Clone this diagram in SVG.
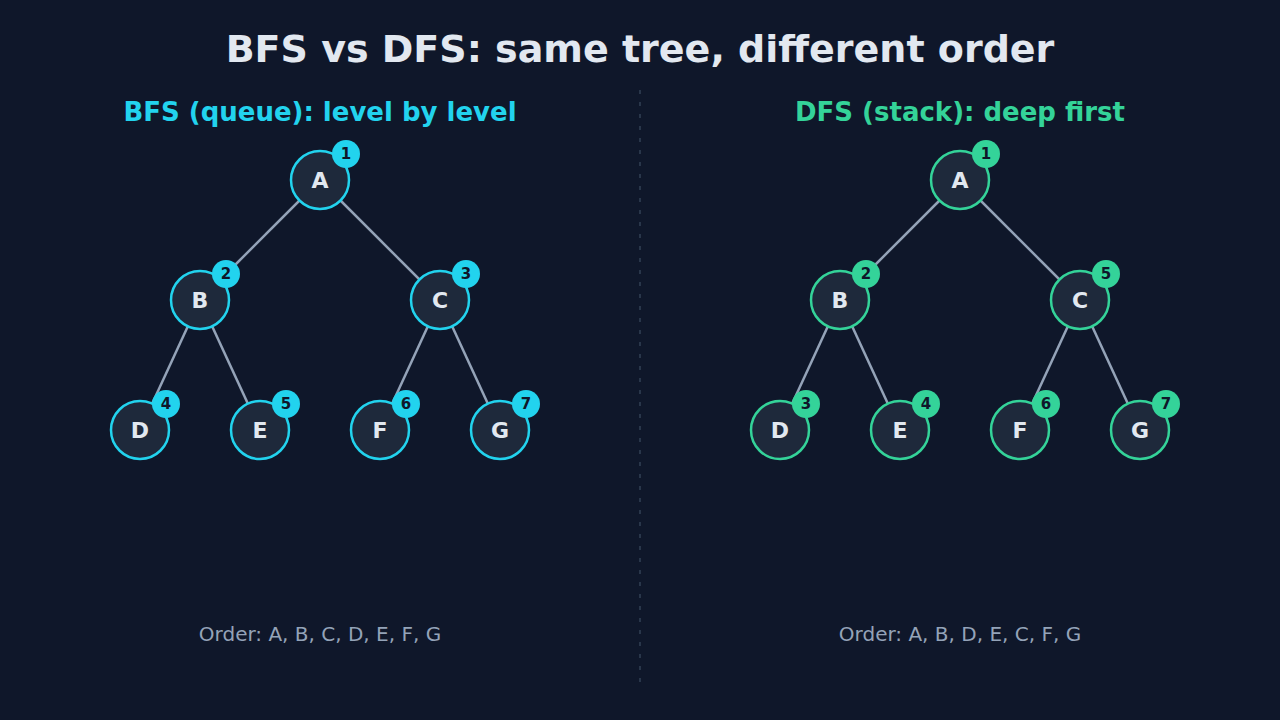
<svg xmlns="http://www.w3.org/2000/svg" width="1280" height="720" viewBox="0 0 1280 720">
<style>
.bg{fill:#0f172a}
.title{font-family:"DejaVu Sans",sans-serif;font-weight:bold;font-size:38px;fill:#e2e8f0;text-anchor:middle}
.sub{font-family:"DejaVu Sans",sans-serif;font-weight:bold;font-size:26px;text-anchor:middle}
.edge{stroke:#94a3b8;stroke-width:2.5;fill:none}
.node{fill:#1e293b;stroke-width:2.5}
.lbl{font-family:"DejaVu Sans",sans-serif;font-weight:bold;font-size:22px;fill:#e2e8f0;text-anchor:middle;dominant-baseline:central}
.bt{font-family:"DejaVu Sans",sans-serif;font-weight:bold;font-size:15px;fill:#0f172a;text-anchor:middle;dominant-baseline:central}
.order{font-family:"DejaVu Sans",sans-serif;font-size:20px;fill:#94a3b8;text-anchor:middle}
.bfs .node{stroke:#22d3ee}.bfs .badge{fill:#22d3ee}
.dfs .node{stroke:#34d399}.dfs .badge{fill:#34d399}
</style>
<rect class="bg" x="0" y="0" width="1280" height="720"/>
<text class="title" x="640" y="62">BFS vs DFS: same tree, different order</text>
<line x1="640" y1="90" x2="640" y2="686" stroke="#334155" stroke-width="1.5" stroke-dasharray="4 8"/>
<text class="sub" x="320" y="121" fill="#22d3ee">BFS (queue): level by level</text>
<text class="sub" x="960" y="121" fill="#34d399">DFS (stack): deep first</text>
<g id="connectors">
<line class="edge" x1="320" y1="180" x2="200" y2="300"/>
<line class="edge" x1="320" y1="180" x2="440" y2="300"/>
<line class="edge" x1="200" y1="300" x2="140" y2="430"/>
<line class="edge" x1="200" y1="300" x2="260" y2="430"/>
<line class="edge" x1="440" y1="300" x2="380" y2="430"/>
<line class="edge" x1="440" y1="300" x2="500" y2="430"/>
<line class="edge" x1="960" y1="180" x2="840" y2="300"/>
<line class="edge" x1="960" y1="180" x2="1080" y2="300"/>
<line class="edge" x1="840" y1="300" x2="780" y2="430"/>
<line class="edge" x1="840" y1="300" x2="900" y2="430"/>
<line class="edge" x1="1080" y1="300" x2="1020" y2="430"/>
<line class="edge" x1="1080" y1="300" x2="1140" y2="430"/>
</g>
<g class="bfs">
<g id="bfs-A"><circle class="node" cx="320" cy="180" r="29"/><text class="lbl" x="320" y="180">A</text><circle class="badge" cx="346" cy="154" r="14"/><text class="bt" x="346" y="154">1</text></g>
<g id="bfs-B"><circle class="node" cx="200" cy="300" r="29"/><text class="lbl" x="200" y="300">B</text><circle class="badge" cx="226" cy="274" r="14"/><text class="bt" x="226" y="274">2</text></g>
<g id="bfs-C"><circle class="node" cx="440" cy="300" r="29"/><text class="lbl" x="440" y="300">C</text><circle class="badge" cx="466" cy="274" r="14"/><text class="bt" x="466" y="274">3</text></g>
<g id="bfs-D"><circle class="node" cx="140" cy="430" r="29"/><text class="lbl" x="140" y="430">D</text><circle class="badge" cx="166" cy="404" r="14"/><text class="bt" x="166" y="404">4</text></g>
<g id="bfs-E"><circle class="node" cx="260" cy="430" r="29"/><text class="lbl" x="260" y="430">E</text><circle class="badge" cx="286" cy="404" r="14"/><text class="bt" x="286" y="404">5</text></g>
<g id="bfs-F"><circle class="node" cx="380" cy="430" r="29"/><text class="lbl" x="380" y="430">F</text><circle class="badge" cx="406" cy="404" r="14"/><text class="bt" x="406" y="404">6</text></g>
<g id="bfs-G"><circle class="node" cx="500" cy="430" r="29"/><text class="lbl" x="500" y="430">G</text><circle class="badge" cx="526" cy="404" r="14"/><text class="bt" x="526" y="404">7</text></g>
</g>
<g class="dfs">
<g id="dfs-A"><circle class="node" cx="960" cy="180" r="29"/><text class="lbl" x="960" y="180">A</text><circle class="badge" cx="986" cy="154" r="14"/><text class="bt" x="986" y="154">1</text></g>
<g id="dfs-B"><circle class="node" cx="840" cy="300" r="29"/><text class="lbl" x="840" y="300">B</text><circle class="badge" cx="866" cy="274" r="14"/><text class="bt" x="866" y="274">2</text></g>
<g id="dfs-C"><circle class="node" cx="1080" cy="300" r="29"/><text class="lbl" x="1080" y="300">C</text><circle class="badge" cx="1106" cy="274" r="14"/><text class="bt" x="1106" y="274">5</text></g>
<g id="dfs-D"><circle class="node" cx="780" cy="430" r="29"/><text class="lbl" x="780" y="430">D</text><circle class="badge" cx="806" cy="404" r="14"/><text class="bt" x="806" y="404">3</text></g>
<g id="dfs-E"><circle class="node" cx="900" cy="430" r="29"/><text class="lbl" x="900" y="430">E</text><circle class="badge" cx="926" cy="404" r="14"/><text class="bt" x="926" y="404">4</text></g>
<g id="dfs-F"><circle class="node" cx="1020" cy="430" r="29"/><text class="lbl" x="1020" y="430">F</text><circle class="badge" cx="1046" cy="404" r="14"/><text class="bt" x="1046" y="404">6</text></g>
<g id="dfs-G"><circle class="node" cx="1140" cy="430" r="29"/><text class="lbl" x="1140" y="430">G</text><circle class="badge" cx="1166" cy="404" r="14"/><text class="bt" x="1166" y="404">7</text></g>
</g>
<text class="order" x="320" y="641">Order: A, B, C, D, E, F, G</text>
<text class="order" x="960" y="641">Order: A, B, D, E, C, F, G</text>
</svg>
